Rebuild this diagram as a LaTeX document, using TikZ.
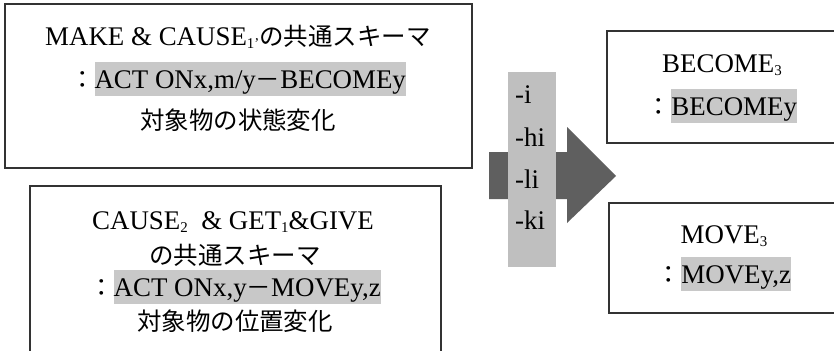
\documentclass[tikz,border=0pt]{standalone}
\usepackage{fontspec}
\setmainfont{Liberation Serif}
\newfontfamily\jp[Scale=0.91]{Noto Sans CJK JP}
\definecolor{hl}{HTML}{C8C8C8}
\definecolor{colgray}{HTML}{BFBFBF}
\definecolor{arrgray}{HTML}{5F5F5F}
\definecolor{framecol}{HTML}{333333}
\newcommand\hlt[1]{{\setlength\fboxsep{0pt}\colorbox{hl}{\vrule height 0.98em depth 0.3em width 0pt #1}}}
\newcommand\mysub[1]{\raisebox{-0.3ex}{\fontsize{15}{15}\selectfont #1}}
\tikzset{
  framebox/.style={draw=framecol, line width=1.3bp, inner sep=0pt},
  txt/.style={anchor=base, inner sep=0pt, font=\fontsize{27}{27}\selectfont},
  suf/.style={anchor=base west, inner sep=0pt, font=\fontsize{27}{27}\selectfont},
}
\begin{document}
\begin{tikzpicture}[x=1bp, y=-1bp]
\useasboundingbox (0,0) rectangle (834,350);
\clip (0,0) rectangle (834,350);
% boxes
\node[framebox, minimum width=467bp, minimum height=164bp] (box1) at (238.5,86) {};
\node[framebox, minimum width=411bp, minimum height=184bp] (box2) at (235.5,278) {};
\node[framebox, minimum width=233bp, minimum height=112bp] (box3) at (723.5,87) {};
\node[framebox, minimum width=231bp, minimum height=110bp] (box4) at (724.5,258) {};
% arrow
\fill[arrgray] (489,152) -- (567,152) -- (567,127) -- (616,176) -- (567,223) -- (567,199) -- (489,199) -- cycle;
\node[fill=colgray, inner sep=0pt, minimum width=48bp, minimum height=195bp] (col) at (532,169.5) {};
% box 1 text
\node[txt] (b1l1) at (238,45) {MAKE \& CAUSE\mysub{1'}{\jp の共通スキーマ}};
\node[txt] (b1l2) at (238,88) {{\jp ：}\hlt{ACT ONx,m/y{\jp －}BECOMEy}};
\node[txt] (b1l3) at (238,129) {\jp 対象物の状態変化};
% box 2 text
\node[txt] (b2l1) at (233,229) {CAUSE\mysub{2}\ \ \& GET\mysub{1}\&GIVE};
\node[txt] (b2l2) at (235,264) {\jp の共通スキーマ};
\node[txt] (b2l3) at (235,296) {{\jp ：}\hlt{ACT ONx,y{\jp －}MOVEy,z}};
\node[txt] (b2l4) at (235,330) {\jp 対象物の位置変化};
% right boxes text
\node[txt] (b3l1) at (722,72) {BECOME\mysub{3}};
\node[txt] (b3l2) at (722,115) {{\jp ：}\hlt{BECOMEy}};
\node[txt] (b4l1) at (724,243) {MOVE\mysub{3}};
\node[txt] (b4l2) at (724,283) {{\jp ：}\hlt{MOVEy,z}};
% suffixes
\node[suf] (s1) at (515,103) {-i};
\node[suf] (s2) at (515,146) {-hi};
\node[suf] (s3) at (515,188) {-li};
\node[suf] (s4) at (515,229) {-ki};
\end{tikzpicture}
\end{document}
